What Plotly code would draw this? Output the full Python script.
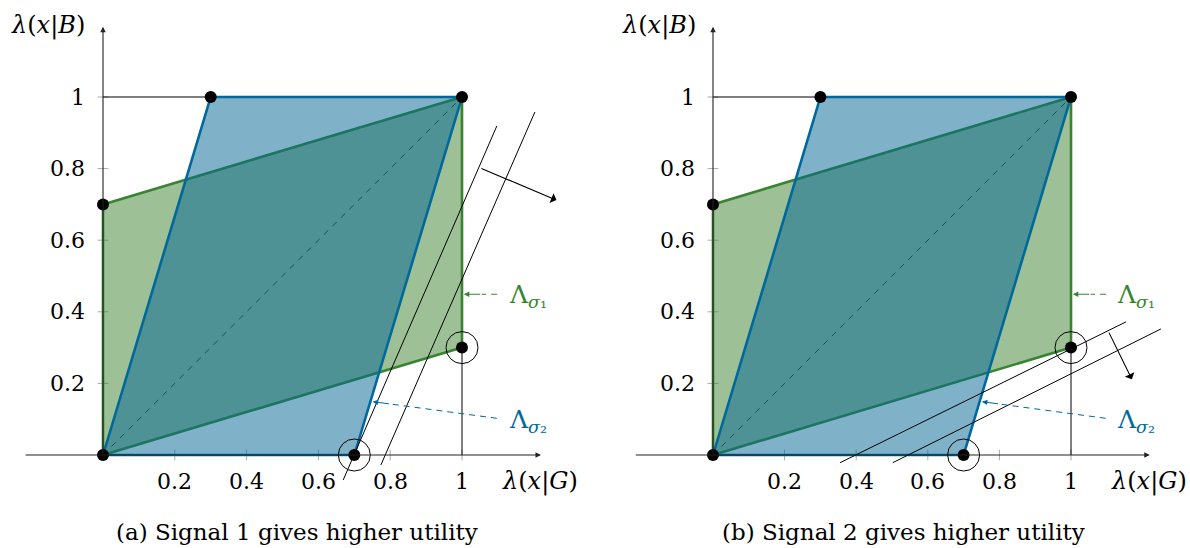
import plotly.graph_objects as go

# ---------------- data ----------------
green_x = [0, 0, 1, 1]
green_y = [0, 0.7, 1, 0.3]
blue_x = [0, 0.3, 1, 0.7]
blue_y = [0, 1, 1, 0]
dot_x = [0, 0, 0.3, 1, 1, 0.7]
dot_y = [0, 0.7, 1, 1, 0.3, 0]
circled_x = [0.7, 1]
circled_y = [0, 0.3]
guide_h_x = [0, 0.3]
guide_h_y = [1, 1]
guide_v_x = [1, 1]
guide_v_y = [0, 0.3]
diag_x = [0, 1]
diag_y = [0, 1]
ticks = [0.2, 0.4, 0.6, 0.8, 1]
tick_labels = ["0.2", "0.4", "0.6", "0.8", "1"]

# iso-utility lines and their normal arrows
iso_a1_x, iso_a1_y = [0.669, 1.097], [-0.07, 0.919]
iso_a2_x, iso_a2_y = [0.774, 1.203], [-0.028, 0.958]
arr_a_x, arr_a_y = [1.05, 1.263], [0.802, 0.712]
iso_b1_x, iso_b1_y = [0.355, 1.154], [-0.0215, 0.372]
iso_b2_x, iso_b2_y = [0.502, 1.251], [-0.0215, 0.352]
arr_b_x, arr_b_y = [1.104, 1.170], [0.346, 0.2115]

# label arrows (tail -> tip)
lam1_x, lam1_y = [1.098, 1.005], [0.449, 0.449]
lam2_x, lam2_y = [1.097, 0.751], [0.1025, 0.149]

captions = ["(a) Signal 1 gives higher utility", "(b) Signal 2 gives higher utility"]

GREEN = "#388430"
GREEN_FILL = "rgba(59,129,45,0.5)"
BLUE = "#00689b"
BLUE_FILL = "rgba(0,99,147,0.5)"
FONT = "DejaVu Serif"

fig = go.Figure()
annotations = []


def panel(xr, yr, iso1, iso2, arr):
    kw = dict(xaxis=xr, yaxis=yr, showlegend=False, hoverinfo="skip")
    ax_ref = xr
    ay_ref = yr
    # axes (arrows)
    annotations.append(dict(x=1.22, y=0, ax=-0.22, ay=0, xref=ax_ref, yref=ay_ref,
                            axref=ax_ref, ayref=ay_ref, text="", showarrow=True,
                            arrowhead=2, arrowsize=1, arrowwidth=1.1, arrowcolor="#222",
                            standoff=0, startstandoff=0))
    annotations.append(dict(x=0, y=1.196, ax=0, ay=0, xref=ax_ref, yref=ay_ref,
                            axref=ax_ref, ayref=ay_ref, text="", showarrow=True,
                            arrowhead=2, arrowsize=1, arrowwidth=1.1, arrowcolor="#222",
                            standoff=0, startstandoff=0))
    # tick marks
    for t in ticks:
        fig.add_trace(go.Scatter(x=[t, t], y=[-0.015, 0.015], mode="lines",
                                 line=dict(color="#aaaaaa", width=1), **kw))
        fig.add_trace(go.Scatter(x=[-0.015, 0.015], y=[t, t], mode="lines",
                                 line=dict(color="#aaaaaa", width=1), **kw))
    # guide lines
    fig.add_trace(go.Scatter(x=guide_h_x, y=guide_h_y, mode="lines",
                             line=dict(color="black", width=1), **kw))
    fig.add_trace(go.Scatter(x=guide_v_x, y=guide_v_y, mode="lines",
                             line=dict(color="black", width=1), **kw))
    # polygons
    fig.add_trace(go.Scatter(x=green_x + [green_x[0]], y=green_y + [green_y[0]],
                             mode="lines", fill="toself", fillcolor=GREEN_FILL,
                             line=dict(color=GREEN, width=2.6), **kw))
    fig.add_trace(go.Scatter(x=blue_x + [blue_x[0]], y=blue_y + [blue_y[0]],
                             mode="lines", fill="toself", fillcolor=BLUE_FILL,
                             line=dict(color=BLUE, width=2.6), **kw))
    # diagonal
    fig.add_trace(go.Scatter(x=diag_x, y=diag_y, mode="lines",
                             line=dict(color="rgba(25,70,80,0.9)", width=1, dash="6px,6px"), **kw))
    # iso lines
    for lx, ly in (iso1, iso2):
        fig.add_trace(go.Scatter(x=lx, y=ly, mode="lines",
                                 line=dict(color="black", width=1), **kw))
    annotations.append(dict(x=arr[0][1], y=arr[1][1], ax=arr[0][0], ay=arr[1][0],
                            xref=ax_ref, yref=ay_ref, axref=ax_ref, ayref=ay_ref,
                            text="", showarrow=True, arrowhead=1, arrowsize=1.6,
                            arrowwidth=1.1, arrowcolor="black", standoff=0))
    # dots and circles
    fig.add_trace(go.Scatter(x=dot_x, y=dot_y, mode="markers",
                             marker=dict(color="black", size=12), **kw))
    fig.add_trace(go.Scatter(x=circled_x, y=circled_y, mode="markers",
                             marker=dict(symbol="circle-open", color="black", size=32,
                                         line=dict(width=1, color="black")), **kw))
    # label arrows (dashed body + head)
    for (lx, ly), col in (((lam1_x, lam1_y), GREEN), ((lam2_x, lam2_y), BLUE)):
        d = ((lx[0] - lx[1]) ** 2 + (ly[0] - ly[1]) ** 2) ** 0.5
        hx = lx[1] + (lx[0] - lx[1]) * 0.05 / d
        hy = ly[1] + (ly[0] - ly[1]) * 0.05 / d
        fig.add_trace(go.Scatter(x=[lx[0], hx], y=[ly[0], hy], mode="lines",
                                 line=dict(color=col, width=1, dash="6px,5px"), **kw))
        annotations.append(dict(x=lx[1], y=ly[1], ax=hx, ay=hy, xref=ax_ref, yref=ay_ref,
                                axref=ax_ref, ayref=ay_ref, text="", showarrow=True,
                                arrowhead=2, arrowsize=1.1, arrowwidth=1, arrowcolor=col,
                                standoff=0))
    annotations.append(dict(x=1.124, y=0.443, xref=ax_ref, yref=ay_ref, showarrow=False,
                            text="Λ<sub><i>σ</i>₁</sub>",
                            xanchor="left", yanchor="middle",
                            font=dict(family=FONT, size=25, color=GREEN)))
    annotations.append(dict(x=1.124, y=0.094, xref=ax_ref, yref=ay_ref, showarrow=False,
                            text="Λ<sub><i>σ</i>₂</sub>",
                            xanchor="left", yanchor="middle",
                            font=dict(family=FONT, size=25, color=BLUE)))
    # tick labels
    for t, lab in zip(ticks, tick_labels):
        annotations.append(dict(x=t, y=-0.073, xref=ax_ref, yref=ay_ref, showarrow=False,
                                text=lab, xanchor="center", yanchor="middle",
                                font=dict(family=FONT, size=22, color="black")))
        annotations.append(dict(x=-0.045, y=t, xref=ax_ref, yref=ay_ref, showarrow=False,
                                text=lab, xanchor="right", yanchor="middle",
                                font=dict(family=FONT, size=22, color="black")))
    # axis labels
    annotations.append(dict(x=1.217, y=-0.073, xref=ax_ref, yref=ay_ref, showarrow=False,
                            text="<i>λ</i>(<i>x</i>|<i>G</i>)", xanchor="center", yanchor="middle",
                            font=dict(family=FONT, size=24, color="black")))
    annotations.append(dict(x=-0.152, y=1.201, xref=ax_ref, yref=ay_ref, showarrow=False,
                            text="<i>λ</i>(<i>x</i>|<i>B</i>)", xanchor="center", yanchor="middle",
                            font=dict(family=FONT, size=24, color="black")))


panel("x", "y", (iso_a1_x, iso_a1_y), (iso_a2_x, iso_a2_y), (arr_a_x, arr_a_y))
panel("x2", "y2", (iso_b1_x, iso_b1_y), (iso_b2_x, iso_b2_y), (arr_b_x, arr_b_y))

for cx, cap in zip([297 / 1190, 903 / 1190], captions):
    annotations.append(dict(x=cx, y=(548 - 532) / 548, xref="paper", yref="paper",
                            showarrow=False, text=cap, xanchor="center", yanchor="middle",
                            font=dict(family=FONT, size=23, color="black")))

axis_common = dict(visible=False, showgrid=False, zeroline=False, fixedrange=True)
fig.update_layout(
    width=1190, height=548, autosize=False,
    margin=dict(l=0, r=0, t=0, b=0),
    paper_bgcolor="white", plot_bgcolor="white",
    font=dict(family=FONT),
    xaxis=dict(domain=[0, 0.5], range=[-103 / 359, (595 - 103) / 359], **axis_common),
    yaxis=dict(domain=[0, 1], range=[(455 - 548) / 358, 455 / 358], anchor="x", **axis_common),
    xaxis2=dict(domain=[0.5, 1], range=[(595 - 713) / 358, (1190 - 713) / 358], anchor="y2", **axis_common),
    yaxis2=dict(domain=[0, 1], range=[(455 - 548) / 358, 455 / 358], anchor="x2", **axis_common),
    annotations=annotations,
    showlegend=False,
)

fig.write_html("out.html")
